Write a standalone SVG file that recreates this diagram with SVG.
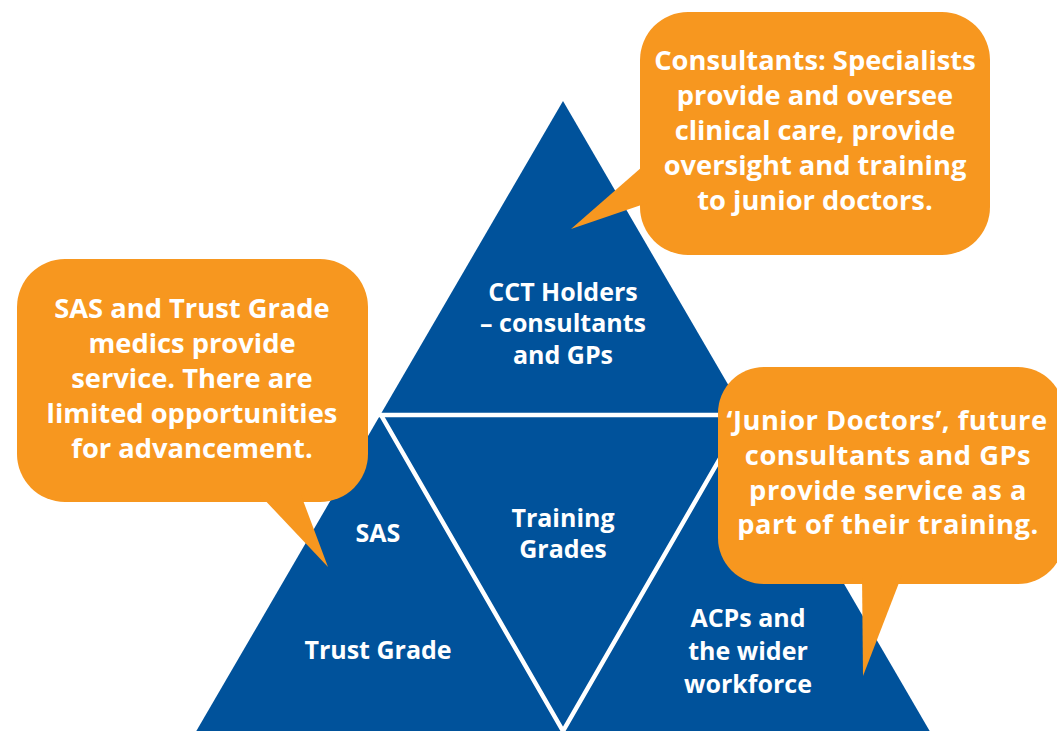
<svg xmlns="http://www.w3.org/2000/svg" width="1057" height="731" viewBox="0 0 1057 731">
<style>
.tri{fill:#00529B}
.sep{stroke:#fff;stroke-width:4.5;fill:none}
.call{fill:#F7971F}
.lbl{font-family:"Open Sans","Liberation Sans",sans-serif;font-weight:bold;fill:#fff;text-anchor:middle}
.t{font-size:25px}
.c{font-size:27.3px}
.w{letter-spacing:0.5px}
</style>
<rect width="1057" height="731" fill="#fff"/>
<g id="pyramid">
<polygon class="tri" points="563,101 194,735 932,735"/>
</g>
<g id="connectors">
<line class="sep" x1="378" y1="415" x2="748" y2="415"/>
<polyline class="sep" points="381,415 563,731 745,415"/>
</g>
<g id="node-cct">
<text class="lbl t" x="563" y="301">CCT Holders</text>
<text class="lbl t" x="563" y="332">– consultants</text>
<text class="lbl t" x="563" y="364">and GPs</text>
</g>
<g id="node-sas">
<text class="lbl t" x="378" y="542">SAS</text>
</g>
<g id="node-trust">
<text class="lbl t" x="378" y="659">Trust Grade</text>
</g>
<g id="node-training">
<text class="lbl t" x="563" y="527">Training</text>
<text class="lbl t" x="563" y="558">Grades</text>
</g>
<g id="node-acps">
<text class="lbl t" x="748" y="627">ACPs and</text>
<text class="lbl t" x="748" y="660">the wider</text>
<text class="lbl t" x="748" y="693">workforce</text>
</g>
<g id="callout-consultants">
<rect class="call" x="640" y="12" width="350" height="243" rx="48"/>
<polygon class="call" points="571,229 650,160 650,202"/>
<text class="lbl c" x="815" y="70">Consultants: Specialists</text>
<text class="lbl c" x="815" y="105">provide and oversee</text>
<text class="lbl c" x="815" y="140">clinical care, provide</text>
<text class="lbl c" x="815" y="175">oversight and training</text>
<text class="lbl c" x="815" y="210">to junior doctors.</text>
</g>
<g id="callout-sas">
<rect class="call" x="17" y="259" width="351" height="243" rx="48"/>
<polygon class="call" points="260,495 301,495 328,567"/>
<text class="lbl c" x="192" y="318">SAS and Trust Grade</text>
<text class="lbl c" x="192" y="353">medics provide</text>
<text class="lbl c" x="192" y="388">service. There are</text>
<text class="lbl c" x="192" y="423">limited opportunities</text>
<text class="lbl c" x="192" y="458">for advancement.</text>
</g>
<g id="callout-junior">
<rect class="call" x="718" y="367" width="346" height="217" rx="46"/>
<polygon class="call" points="862,575 902,575 863,676"/>
<text class="lbl c w" x="887" y="430">‘Junior Doctors’, future</text>
<text class="lbl c w" x="888" y="465">consultants and GPs</text>
<text class="lbl c w" x="888" y="500">provide service as a</text>
<text class="lbl c w" x="888" y="534">part of their training.</text>
</g>
</svg>
